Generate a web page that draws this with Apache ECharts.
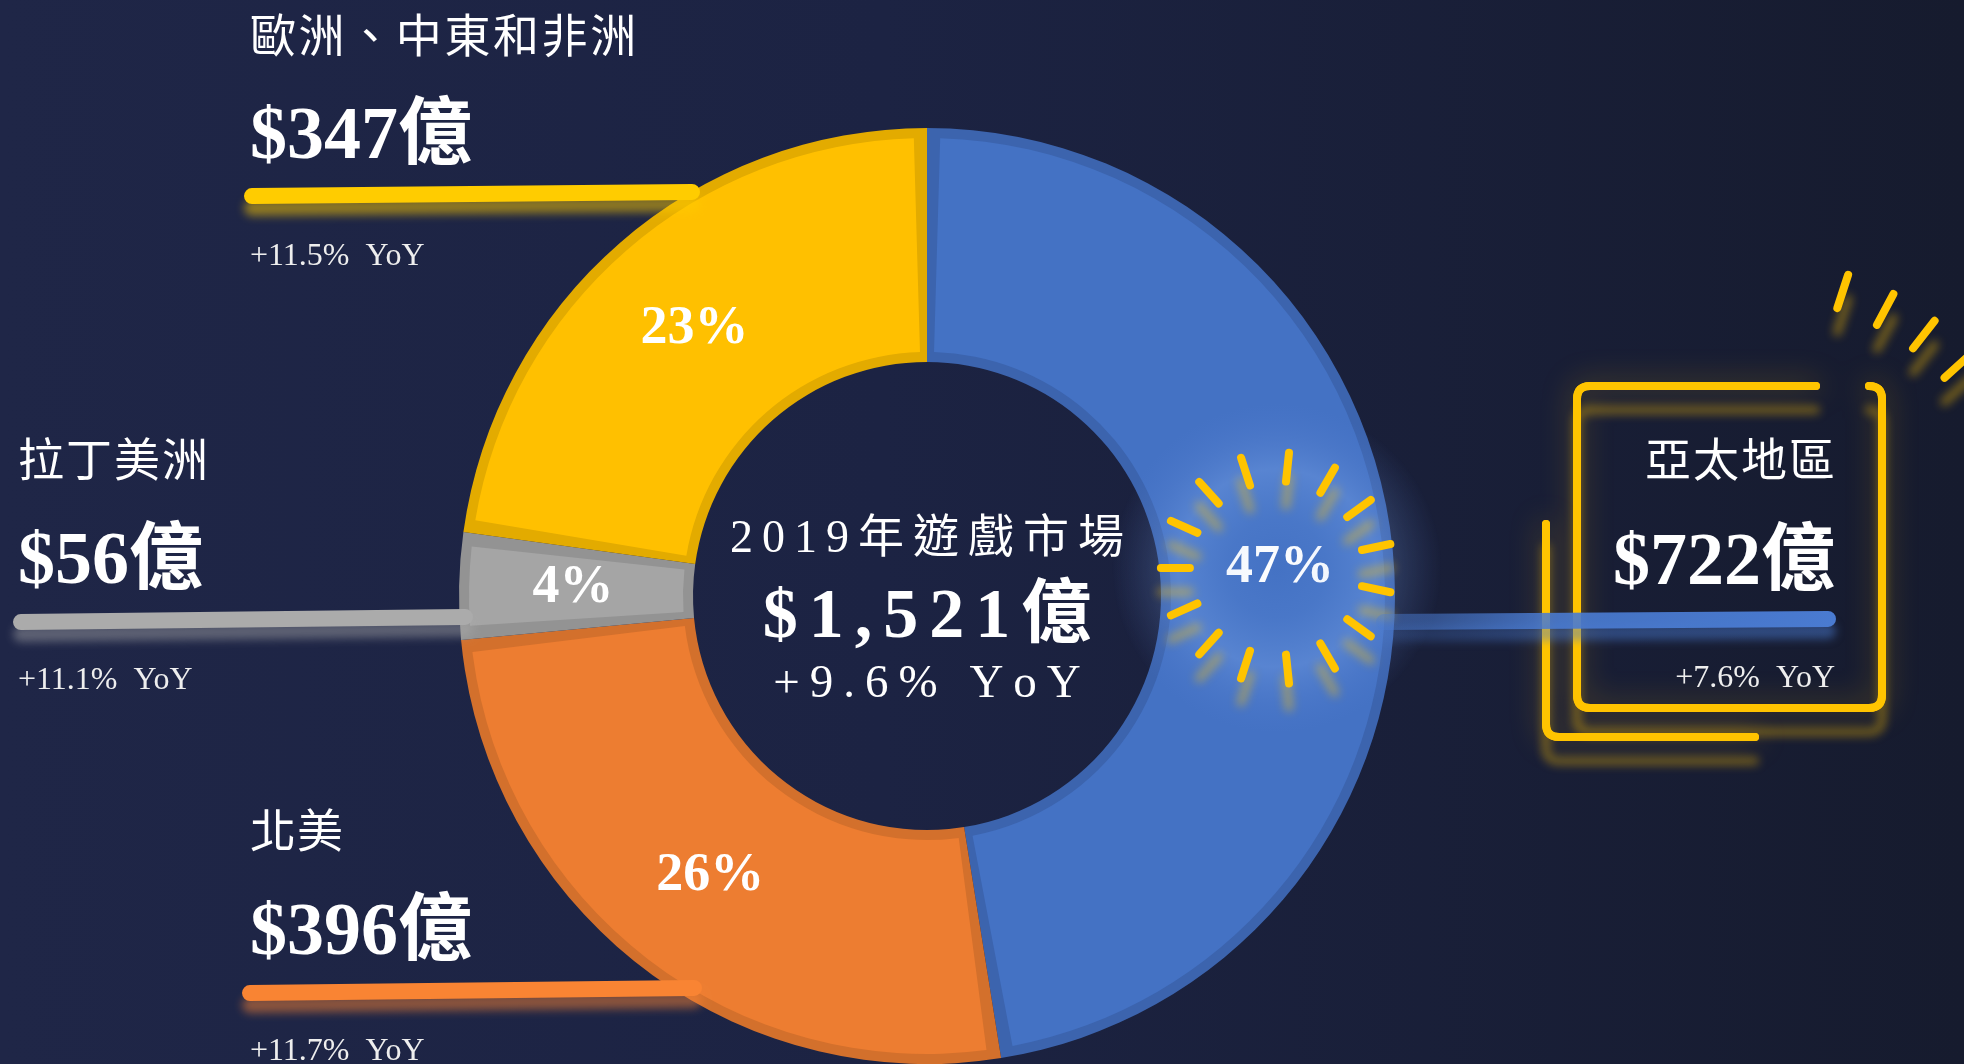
<!DOCTYPE html>
<html>
<head>
<meta charset="utf-8">
<title>2019年遊戲市場</title>
<script src="https://cdn.jsdelivr.net/npm/echarts@6/dist/echarts.min.js"></script>
<style>
    html, body { margin: 0; padding: 0; overflow: hidden; }
    #main {
        width: 1964px; height: 1064px;
        background: linear-gradient(90deg, #1f2647 0%, #1c2343 45%, #161b2e 100%);
    }
</style>
</head>
<body>
<div id="main"></div>
<script>
    // ---- data ----
    var regions = ['亞太地區', '北美', '拉丁美洲', '歐洲、中東和非洲'];
    var revenue = [722, 396, 56, 347];          // 億美元
    var growth = [7.6, 11.7, 11.1, 11.5];       // YoY %
    var marketTitle = '2019年遊戲市場';
    var marketGrowth = 9.6;

    // ---- styles ----
    var fillColors = ['#4472C4', '#ED7D31', '#A5A5A5', '#FFC000'];
    var edgeColors = ['#3C64AE', '#D3702C', '#939393', '#E3AB00'];
    var lineColors = ['#4A7BD1', '#F98433', '#ABABAB', '#FFCC00'];
    var shadowColors = ['rgba(74,123,209,0.5)', 'rgba(249,132,51,0.5)', 'rgba(171,171,171,0.45)', 'rgba(255,204,0,0.5)'];
    var GOLD = '#FFC400';

    var CX = 927, CY = 596, R_IN = 234, R_OUT = 468, EDGE = 10;

    var serif = '"Liberation Serif", "DejaVu Serif", serif';
    var mixed = '"Liberation Serif", "Noto Sans CJK TC", serif';
    var cjk = '"Noto Sans CJK TC", "Noto Sans CJK SC", sans-serif';

    // where each region's caption sits (index matches the data arrays)
    var captionLayout = [
        {x: 1835, align: 'right', nameY: 459, valueY: 565, yoyY: 679, line: [1384, 622, 1828, 619], nameGap: 2},
        {x: 250, align: 'left', nameY: 830, valueY: 935, yoyY: 1052, line: [250, 993, 694, 988], nameGap: 1},
        {x: 18, align: 'left', nameY: 459, valueY: 564, yoyY: 681, line: [21, 622, 465, 617], nameGap: 2},
        {x: 250, align: 'left', nameY: 35, valueY: 139, yoyY: 257, line: [252, 196, 692, 192], nameGap: 2.6}
    ];

    var total = revenue.reduce(function (a, b) { return a + b; }, 0);

    function money(v) {
        return '$' + v.toLocaleString('en-US') + '億';
    }

    // letter spaced text through rich tokens
    function spaced(str, gap, base) {
        var chars = Array.from(str);
        var rich = {
            a: Object.assign({}, base, {padding: [0, gap, 0, 0]}),
            b: Object.assign({}, base)
        };
        var text = chars.map(function (c, i) {
            return '{' + (i < chars.length - 1 ? 'a' : 'b') + '|' + c + '}';
        }).join('');
        return {text: text, rich: rich};
    }

    function textEl(x, y, str, align, font, gap) {
        var base = {
            fontFamily: font.family,
            fontSize: font.size,
            fontWeight: font.weight || 'normal',
            fill: font.color || '#ffffff'
        };
        var style = Object.assign({align: align, verticalAlign: 'middle'}, base);
        if (gap) {
            var s = spaced(str, gap, base);
            style.text = s.text;
            style.rich = s.rich;
        } else {
            style.text = str;
        }
        return {type: 'text', x: x, y: y, z: 20, silent: true, style: style};
    }

    // polyline with rounded corners
    function roundedPoints(pts, r) {
        var out = [pts[0]];
        for (var i = 1; i < pts.length - 1; i++) {
            var p = pts[i], a = pts[i - 1], b = pts[i + 1];
            var la = Math.hypot(a[0] - p[0], a[1] - p[1]);
            var lb = Math.hypot(b[0] - p[0], b[1] - p[1]);
            var p1 = [p[0] + r * (a[0] - p[0]) / la, p[1] + r * (a[1] - p[1]) / la];
            var p2 = [p[0] + r * (b[0] - p[0]) / lb, p[1] + r * (b[1] - p[1]) / lb];
            for (var t = 0; t <= 1.0001; t += 0.125) {
                var u = 1 - t;
                out.push([
                    u * u * p1[0] + 2 * u * t * p[0] + t * t * p2[0],
                    u * u * p1[1] + 2 * u * t * p[1] + t * t * p2[1]
                ]);
            }
        }
        out.push(pts[pts.length - 1]);
        return out;
    }

    var graphics = [];

    // captions + leader lines
    captionLayout.forEach(function (c, i) {
        graphics.push(textEl(c.x, c.nameY, regions[i], c.align, {family: cjk, size: 46}, c.nameGap));
        graphics.push(textEl(c.x, c.valueY, money(revenue[i]), c.align, {family: mixed, size: 74, weight: 'bold'}));
        graphics.push(textEl(c.x, c.yoyY, '+' + growth[i].toFixed(1) + '%  YoY', c.align,
            {family: serif, size: 32, color: '#eeeeee'}));
        var stroke = lineColors[i];
        if (i === 0) {
            stroke = new echarts.graphic.LinearGradient(0, 0, 1, 0, [
                {offset: 0, color: 'rgba(74,123,209,0.4)'},
                {offset: 0.4, color: 'rgba(74,123,209,0.9)'},
                {offset: 1, color: '#4A7BD1'}
            ]);
        }
        graphics.push({
            type: 'line', z: 10, silent: true,
            shape: {x1: c.line[0], y1: c.line[1], x2: c.line[2], y2: c.line[3]},
            style: {
                stroke: stroke, lineWidth: 16, lineCap: 'round',
                shadowColor: shadowColors[i], shadowBlur: 8, shadowOffsetY: 12
            }
        });
    });

    // centre text
    graphics.push(textEl(CX, 540, marketTitle, 'center', {family: mixed, size: 46}, 9));
    graphics.push(textEl(CX, 619, money(total), 'center', {family: mixed, size: 70, weight: 'bold'}, 11));
    graphics.push(textEl(CX, 685, '+' + marketGrowth.toFixed(1) + '% YoY', 'center', {family: serif, size: 47}, 10));

    // highlight burst around the biggest slice label
    var firstMid = (revenue[0] / total) * Math.PI;   // clockwise from 12 o'clock
    var rMid = (R_IN + R_OUT) / 2;
    var lx = CX + rMid * Math.sin(firstMid);
    var ly = CY - rMid * Math.cos(firstMid);

    graphics.push({
        type: 'circle', z: 4, silent: true,
        shape: {cx: lx, cy: ly, r: 165},
        style: {
            fill: new echarts.graphic.RadialGradient(0.5, 0.5, 0.5, [
                {offset: 0, color: 'rgba(120,165,235,0)'},
                {offset: 0.3, color: 'rgba(120,165,235,0.1)'},
                {offset: 0.6, color: 'rgba(135,175,240,0.3)'},
                {offset: 0.8, color: 'rgba(110,150,225,0.15)'},
                {offset: 1, color: 'rgba(90,130,220,0)'}
            ])
        }
    });

    function ray(cx, cy, deg, r1, r2) {
        var a = deg * Math.PI / 180;
        return {
            type: 'line', z: 6, silent: true,
            shape: {
                x1: cx + r1 * Math.sin(a), y1: cy - r1 * Math.cos(a),
                x2: cx + r2 * Math.sin(a), y2: cy - r2 * Math.cos(a)
            },
            style: {
                stroke: GOLD, lineWidth: 8, lineCap: 'round',
                shadowColor: 'rgba(255,196,0,0.45)', shadowBlur: 10, shadowOffsetY: 24
            }
        };
    }

    for (var k = 0; k < 15; k++) {
        graphics.push(ray(lx, ly, 6 + 24 * k, 87, 116));
    }
    [18, 28, 38, 48].forEach(function (d) {
        graphics.push(ray(1761, 543, d, 247, 282));
    });

    // gold frame round the Asia-Pacific caption
    var frames = [
        [[1816, 386], [1577, 386], [1577, 708], [1882, 708], [1882, 386], [1869, 386]],
        [[1546, 524], [1546, 737], [1755, 737]]
    ];
    frames.forEach(function (f) {
        var pts = roundedPoints(f, 13);
        graphics.push({
            type: 'polyline', z: 8, silent: true,
            shape: {points: pts},
            style: {
                fill: null, stroke: GOLD, lineWidth: 8, lineCap: 'round', lineJoin: 'round',
                shadowColor: 'rgba(255,190,0,0.35)', shadowBlur: 30, shadowOffsetY: 0
            }
        });
        graphics.push({
            type: 'polyline', z: 8, silent: true,
            shape: {points: pts},
            style: {
                fill: null, stroke: GOLD, lineWidth: 8, lineCap: 'round', lineJoin: 'round',
                shadowColor: 'rgba(255,196,0,0.4)', shadowBlur: 10, shadowOffsetY: 24
            }
        });
    });

    var chart = echarts.init(document.getElementById('main'));

    var option = {
        backgroundColor: 'transparent',
        animation: false,
        series: [
            {
                // darker rim of every slice
                type: 'pie',
                center: [CX, CY],
                radius: [R_IN, R_OUT],
                startAngle: 90,
                clockwise: true,
                silent: true,
                label: {show: false},
                labelLine: {show: false},
                data: regions.map(function (n, i) {
                    return {name: n, value: revenue[i], itemStyle: {color: edgeColors[i]}};
                })
            },
            {
                type: 'pie',
                center: [CX, CY],
                radius: [R_IN + EDGE, R_OUT - EDGE],
                startAngle: 90,
                clockwise: true,
                padAngle: 3.3,
                percentPrecision: 0,
                silent: true,
                avoidLabelOverlap: false,
                label: {
                    show: true,
                    position: 'inside',
                    formatter: '{d}%',
                    color: '#ffffff',
                    fontFamily: serif,
                    fontWeight: 'bold',
                    fontSize: 54
                },
                labelLine: {show: false},
                data: regions.map(function (n, i) {
                    return {name: n, value: revenue[i], itemStyle: {color: fillColors[i]}};
                })
            }
        ],
        graphic: graphics
    };

    chart.setOption(option);
</script>
</body>
</html>
